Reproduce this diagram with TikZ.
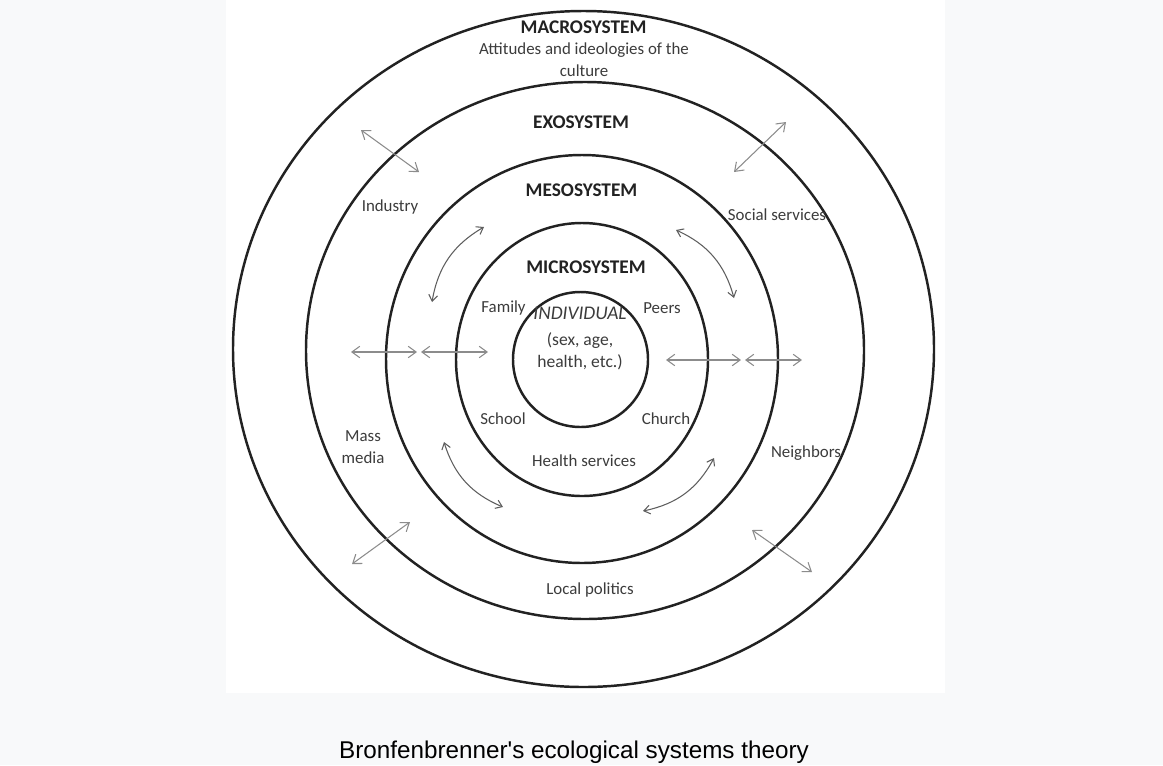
\documentclass[tikz,border=0pt]{standalone}
\usepackage{fontspec}
\setmainfont{Carlito}
\newfontfamily\capfont{Liberation Sans}
\usetikzlibrary{arrows.meta}

\definecolor{pagebg}{HTML}{F8F9FA}
\definecolor{ringcol}{HTML}{222222}
\definecolor{txtcol}{HTML}{3C3C3C}
\definecolor{arrcol}{HTML}{8C8C8C}
\definecolor{bendcol}{HTML}{5E5E5E}

\begin{document}
\begin{tikzpicture}[
        x=0.02cm, y=-0.02cm,
        ring/.style={
            draw=ringcol,
            line width=1.4pt
        },
        sysname/.style={
            font=\fontsize{11}{13}\selectfont\bfseries,
            text=ringcol,
            inner sep=0pt
        },
        setting/.style={
            font=\fontsize{9.6}{12.5}\selectfont,
            text=txtcol,
            align=center,
            inner sep=0pt
        },
        arrow/.style={
            <->,
            >={Straight Barb[length=4.5pt, width=6.5pt]},
            draw=arrcol,
            line width=0.6pt
        },
        bendarrow/.style={
            arrow,
            draw=bendcol,
            >={Straight Barb[length=3.5pt, width=5pt]}
        }
    ]

        \fill[pagebg] (0,0) rectangle (1163,765);
        \fill[white] (226,0) rectangle (945,693);
        \useasboundingbox (0,0) rectangle (1163,765);

        \draw[ring] (583.5,349) ellipse [x radius=350.5, y radius=338];
        \draw[ring] (585,350.5) ellipse [x radius=279, y radius=268.5];
        \draw[ring] (582,359) ellipse [x radius=196, y radius=204];
        \draw[ring] (582,359.5) ellipse [x radius=126, y radius=136.5];
        \draw[ring] (580.5,359.5) ellipse [x radius=67.5, y radius=67.5];

        \node[sysname] (macro) at (583.5,27) {MACROSYSTEM};
        \node[setting] (culture) at (584,60) {Attitudes and ideologies of the\\culture};
        \node[sysname] (exo) at (581,122) {EXOSYSTEM};
        \node[sysname] (meso) at (581.5,190) {MESOSYSTEM};
        \node[sysname] (micro) at (586,267) {MICROSYSTEM};
        \node[setting, font=\fontsize{11}{13}\selectfont\itshape] (indiv) at (580,313) {INDIVIDUAL};
        \node[setting, font=\fontsize{10}{12.5}\selectfont] (traits) at (580,351) {(sex, age,\\health, etc.)};

        \node[setting] (family) at (503.5,308) {Family};
        \node[setting] (peers) at (662,308) {Peers};
        \node[setting] (school) at (503,419) {School};
        \node[setting] (church) at (666,419) {Church};
        \node[setting] (health) at (584,461) {Health services};
        \node[setting] (industry) at (390,207) {Industry};
        \node[setting] (social) at (777,215) {Social services};
        \node[setting] (media) at (363,447) {Mass\\media};
        \node[setting] (neigh) at (806,453) {Neighbors};
        \node[setting] (politics) at (590,590) {Local politics};

        \coordinate (ul-a) at (361,130);
        \coordinate (ul-b) at (419,172);
        \coordinate (ur-a) at (734,172);
        \coordinate (ur-b) at (786,122);
        \coordinate (ll-a) at (352,564);
        \coordinate (ll-b) at (410,522);
        \coordinate (lr-a) at (752,530);
        \coordinate (lr-b) at (812,572);
        \draw[arrow] (ul-a) -- (ul-b);
        \draw[arrow] (ur-a) -- (ur-b);
        \draw[arrow] (ll-a) -- (ll-b);
        \draw[arrow] (lr-a) -- (lr-b);

        \coordinate (hl-a) at (351,352);
        \coordinate (hl-b) at (417,352);
        \coordinate (hl-c) at (421,352);
        \coordinate (hl-d) at (488,352);
        \coordinate (hr-a) at (666,360);
        \coordinate (hr-b) at (741,360);
        \coordinate (hr-c) at (745,360);
        \coordinate (hr-d) at (802,360);
        \draw[arrow] (hl-a) -- (hl-b);
        \draw[arrow] (hl-c) -- (hl-d);
        \draw[arrow] (hr-a) -- (hr-b);
        \draw[arrow] (hr-c) -- (hr-d);

        \coordinate (cul-a) at (484,227);
        \coordinate (cul-b) at (432,302);
        \coordinate (cur-a) at (676,230);
        \coordinate (cur-b) at (734,298);
        \coordinate (cll-a) at (444,442);
        \coordinate (cll-b) at (503,507);
        \coordinate (clr-a) at (714,458);
        \coordinate (clr-b) at (643,511);
        \draw[bendarrow] (cul-a) to[bend right=25] (cul-b);
        \draw[bendarrow] (cur-a) to[bend left=25] (cur-b);
        \draw[bendarrow] (cll-a) to[bend right=25] (cll-b);
        \draw[bendarrow] (clr-a) to[bend left=25] (clr-b);

        \node[font=\capfont\fontsize{13.8}{16}\selectfont, text=black, inner sep=0pt] (caption) at (574,752) {Bronfenbrenner's ecological systems theory};

    \end{tikzpicture}
\end{document}
